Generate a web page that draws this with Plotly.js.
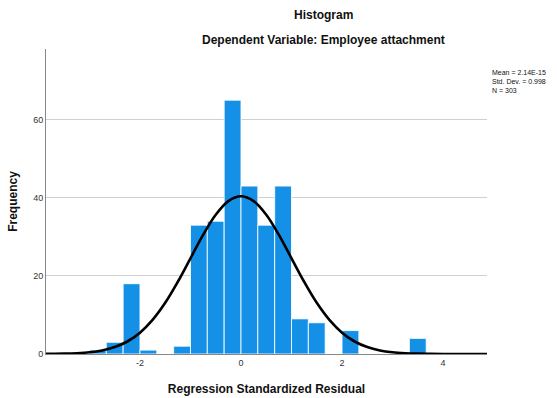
<!DOCTYPE html>
<html>
<head>
<meta charset="utf-8">
<script src="https://cdn.plot.ly/plotly-3.0.1.min.js"></script>
<style>html,body{margin:0;padding:0;background:#fff;}#chart{width:557px;height:398px;}</style>
</head>
<body>
<div id="chart"></div>
<script>
// Histogram bins (left edges, width 1/3) and frequencies
const binLeftEdges = [-3, -2.667, -2.333, -2, -1.667, -1.333, -1, -0.667, -0.333, 0, 0.333, 0.667, 1, 1.333, 1.667, 2, 2.333, 2.667, 3, 3.333];
const frequencies  = [1, 3, 18, 1, 0, 2, 33, 34, 65, 43, 33, 43, 9, 8, 0, 6, 0, 0, 0, 4];
const binWidth = 1/3;

// Normal curve heights
const curveX = [-3.86, -3.75, -3.5, -3.25, -3, -2.75, -2.5, -2.25, -2, -1.75, -1.5, -1.25, -1, -0.75, -0.5, -0.25, 0, 0.25, 0.5, 0.75, 1, 1.25, 1.5, 1.75, 2, 2.25, 2.5, 2.75, 3, 3.25, 3.5, 3.75, 4, 4.25, 4.5, 4.87];
const curveY = [0.02, 0.04, 0.09, 0.21, 0.45, 0.92, 1.77, 3.2, 5.47, 8.74, 13.1, 18.5, 24.5, 30.5, 35.65, 39.15, 40.4, 39.15, 35.65, 30.5, 24.5, 18.5, 13.1, 8.74, 5.47, 3.2, 1.77, 0.92, 0.45, 0.21, 0.09, 0.04, 0.01, 0.005, 0.002, 0.0];

const statsLines = ["Mean = 2.14E-15", "Std. Dev. = 0.998", "N = 303"];
const yTicks = [0, 20, 40, 60];
const xTicks = [-2, 0, 2, 4];

const binCenters = binLeftEdges.map(e => e + binWidth / 2);

const traces = [
  {
    type: 'bar',
    x: binCenters,
    y: frequencies,
    width: binWidth,
    marker: {color: '#1490e6', line: {color: 'rgba(255,255,255,0.85)', width: 1}},
    hoverinfo: 'x+y'
  },
  {
    type: 'scatter',
    mode: 'lines',
    x: curveX,
    y: curveY,
    line: {color: '#000000', width: 2.6, shape: 'spline', smoothing: 1},
    hoverinfo: 'skip'
  }
];

const font = 'Liberation Sans, Arial, sans-serif';
const plotTop = 49.3, plotBottom = 354;
const py = p => (plotBottom - p) / (plotBottom - plotTop);

const layout = {
  width: 557, height: 398,
  margin: {l: 45.7, r: 70.3, t: 49.3, b: 44, pad: 0},
  paper_bgcolor: '#ffffff', plot_bgcolor: '#ffffff',
  showlegend: false,
  bargap: 0,
  font: {family: font, color: '#222'},
  xaxis: {
    range: [-3.86, 4.87],
    tickvals: xTicks,
    ticktext: xTicks.map(String),
    showgrid: false, zeroline: false,
    showline: true, linecolor: '#888', linewidth: 1,
    ticks: '', tickfont: {size: 9, color: '#333', family: font},
    title: {text: 'Regression Standardized Residual', font: {size: 12, color: '#111', family: font, weight: 'bold'}, standoff: 17}
  },
  yaxis: {
    range: [0, 78.1],
    tickvals: yTicks,
    ticktext: yTicks.map(String),
    showgrid: true, gridcolor: '#d0d0d0', gridwidth: 1,
    zeroline: false,
    showline: true, linecolor: '#888', linewidth: 1,
    ticks: '', tickfont: {size: 9, color: '#333', family: font},
    title: {text: 'Frequency', font: {size: 12, color: '#111', family: font, weight: 'bold'}, standoff: 12}
  },
  annotations: [
    {text: 'Histogram', xref: 'paper', yref: 'paper', x: (323 - 45.7) / 441, y: py(15), xanchor: 'center', yanchor: 'middle', showarrow: false, font: {size: 12, color: '#111', family: font, weight: 'bold'}},
    {text: 'Dependent Variable: Employee attachment', xref: 'paper', yref: 'paper', x: (323 - 45.7) / 441, y: py(40), xanchor: 'center', yanchor: 'middle', showarrow: false, font: {size: 12, color: '#111', family: font, weight: 'bold'}},
    {text: statsLines.join('<br>'), xref: 'paper', yref: 'paper', x: (490 - 45.7) / 441, y: py(67), xanchor: 'left', yanchor: 'top', align: 'left', showarrow: false, font: {size: 7, color: '#111', family: font}}
  ]
};

Plotly.newPlot('chart', traces, layout, {displayModeBar: false, staticPlot: true});
</script>
</body>
</html>
